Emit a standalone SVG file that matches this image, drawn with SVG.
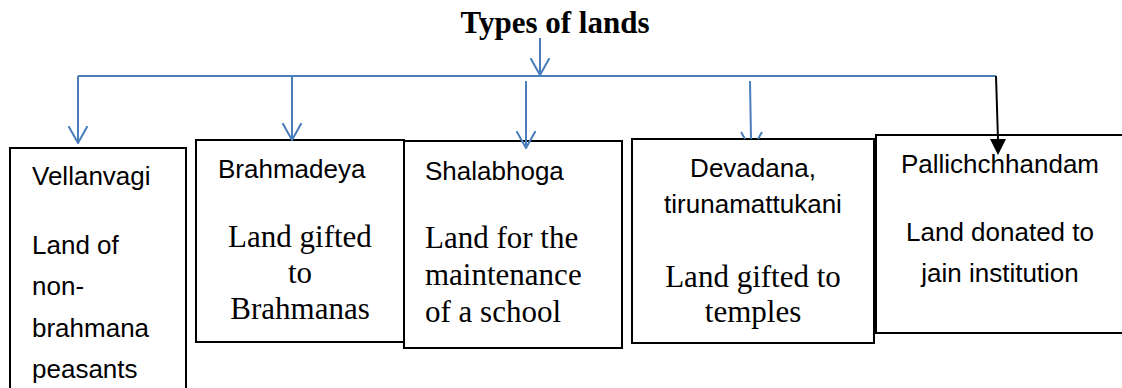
<svg xmlns="http://www.w3.org/2000/svg" width="1122" height="388" viewBox="0 0 1122 388">
<style>
.box{fill:#fff;stroke:#000;stroke-width:2}
.sans{font-family:"Liberation Sans",Arial,sans-serif;font-size:26px;fill:#000}
.serif{font-family:"Liberation Serif","Times New Roman",serif;font-size:31px;fill:#000}
.title{font-family:"Liberation Serif","Times New Roman",serif;font-size:31px;font-weight:bold;fill:#000}
.blue{fill:none;stroke:#4a7ebb;stroke-width:2}
.mid{text-anchor:middle}
</style>
<defs>
<marker id="open" viewBox="0 0 18 20" refX="17" refY="10" markerWidth="18" markerHeight="20" markerUnits="userSpaceOnUse" orient="auto">
<polyline points="0,0.5 17,10 0,19.5" fill="none" stroke="#4a7ebb" stroke-width="2"/>
</marker>
</defs>
<text class="title mid" x="555" y="33">Types of lands</text>
<g id="node-vellanvagi">
<rect class="box" x="10" y="148" width="176" height="250"/>
<text class="sans" x="32" y="185">Vellanvagi</text>
<text class="sans" x="32" y="254">Land of</text>
<text class="sans" x="32" y="295">non-</text>
<text class="sans" x="32" y="337">brahmana</text>
<text class="sans" x="32" y="378">peasants</text>
</g>
<g id="node-brahmadeya">
<rect class="box" x="196" y="140" width="208" height="202"/>
<text class="sans" x="218" y="178">Brahmadeya</text>
<text class="serif mid" x="300" y="247">Land gifted</text>
<text class="serif mid" x="300" y="283">to</text>
<text class="serif mid" x="300" y="319">Brahmanas</text>
</g>
<g id="node-shalabhoga">
<rect class="box" x="404" y="141" width="218" height="207"/>
<text class="sans" x="425" y="180">Shalabhoga</text>
<text class="serif" x="425" y="248">Land for the</text>
<text class="serif" x="425" y="285">maintenance</text>
<text class="serif" x="425" y="322">of a school</text>
</g>
<g id="node-devadana">
<rect class="box" x="632" y="139" width="242" height="204"/>
<text class="sans mid" x="753" y="177">Devadana,</text>
<text class="sans mid" x="753" y="213">tirunamattukani</text>
<text class="serif mid" x="753" y="287">Land gifted to</text>
<text class="serif mid" x="753" y="322">temples</text>
</g>
<g id="node-pallichchhandam">
<rect class="box" x="876" y="135" width="260" height="198"/>
<text class="sans mid" x="1000" y="173">Pallichchhandam</text>
<text class="sans mid" x="1000" y="241">Land donated to</text>
<text class="sans mid" x="1000" y="282">jain institution</text>
</g>
<g id="connectors">
<line class="blue" x1="540" y1="38" x2="540" y2="75" marker-end="url(#open)"/>
<polyline class="blue" points="78,76 996,76"/>
<line class="blue" x1="78" y1="76" x2="78" y2="143" marker-end="url(#open)"/>
<line class="blue" x1="292" y1="76" x2="292" y2="140" marker-end="url(#open)"/>
<line class="blue" x1="526" y1="81" x2="526" y2="148" marker-end="url(#open)"/>
<line class="blue" x1="750" y1="81" x2="751" y2="139"/>
<line class="blue" x1="741" y1="132" x2="745" y2="139"/>
<line class="blue" x1="762" y1="132" x2="758" y2="139"/>
<polyline points="996,76 998,140" fill="none" stroke="#000" stroke-width="2"/>
<polygon points="990,139 1006,139 998,155" fill="#000"/>
</g>
</svg>
